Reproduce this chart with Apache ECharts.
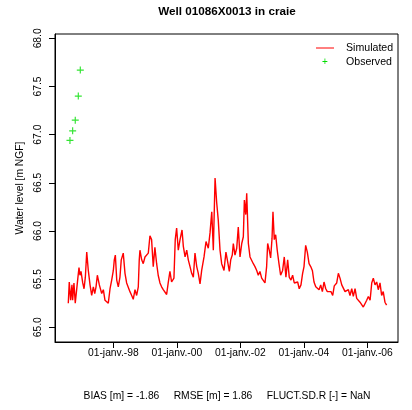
<!DOCTYPE html>
<html>
<head>
<meta charset="utf-8">
<script src="https://cdn.jsdelivr.net/npm/echarts@6/dist/echarts.min.js"></script>
<style>
  html, body { margin: 0; padding: 0; background: #fff; }
  #app { width: 412px; height: 410px; }
</style>
</head>
<body>
<div id="app"></div>
<script>
// simulated water level
const simDates = [
  '1996-08-01', '1996-08-12', '1996-08-28', '1996-09-12', '1996-09-20', '1996-10-05', '1996-10-20', '1996-11-05',
  '1996-11-20', '1996-12-02', '1996-12-13', '1996-12-25', '1997-01-14', '1997-01-29', '1997-02-13', '1997-03-01',
  '1997-03-19', '1997-04-08', '1997-04-27', '1997-05-16', '1997-06-01', '1997-06-16', '1997-07-01', '1997-07-24',
  '1997-08-20', '1997-09-08', '1997-09-27', '1997-10-17', '1997-11-04', '1997-11-24', '1997-12-13', '1998-01-01',
  '1998-01-12', '1998-01-24', '1998-02-09', '1998-02-27', '1998-03-18', '1998-04-02', '1998-04-25', '1998-05-15',
  '1998-06-03', '1998-06-22', '1998-07-11', '1998-07-31', '1998-08-18', '1998-09-07', '1998-09-26', '1998-10-15',
  '1998-10-26', '1998-11-03', '1998-11-23', '1998-12-11', '1998-12-31', '1999-01-19', '1999-02-07', '1999-02-26',
  '1999-03-17', '1999-04-05', '1999-04-24', '1999-05-14', '1999-06-01', '1999-06-21', '1999-07-10', '1999-07-29',
  '1999-08-17', '1999-09-06', '1999-09-24', '1999-10-14', '1999-11-02', '1999-11-29', '1999-12-14', '1999-12-30',
  '2000-01-18', '2000-02-07', '2000-03-01', '2000-03-16', '2000-04-05', '2000-04-24', '2000-05-12', '2000-06-01',
  '2000-06-20', '2000-07-09', '2000-07-28', '2000-08-17', '2000-09-04', '2000-09-24', '2000-10-13', '2000-11-09',
  '2000-12-02', '2000-12-28', '2001-01-17', '2001-02-06', '2001-02-24', '2001-03-16', '2001-04-04', '2001-04-22',
  '2001-05-12', '2001-05-31', '2001-06-27', '2001-07-19', '2001-08-04', '2001-08-27', '2001-09-12', '2001-09-30',
  '2001-10-12', '2001-10-31', '2001-11-20', '2001-12-08', '2001-12-28', '2002-01-17', '2002-02-04', '2002-02-16',
  '2002-03-04', '2002-03-15', '2002-04-03', '2002-04-22', '2002-05-11', '2002-05-30', '2002-06-18', '2002-07-08',
  '2002-07-26', '2002-08-14', '2002-09-03', '2002-09-21', '2002-10-11', '2002-10-30', '2002-11-11', '2002-11-29',
  '2002-12-15', '2002-12-31', '2003-01-11', '2003-01-26', '2003-02-11', '2003-03-01', '2003-03-21', '2003-04-09',
  '2003-05-02', '2003-05-21', '2003-06-09', '2003-06-29', '2003-07-17', '2003-08-06', '2003-08-25', '2003-09-13',
  '2003-10-02', '2003-10-22', '2003-11-09', '2003-11-29', '2003-12-18', '2004-01-03', '2004-01-22', '2004-02-10',
  '2004-03-01', '2004-03-20', '2004-04-08', '2004-04-27', '2004-05-17', '2004-06-04', '2004-06-24', '2004-07-13',
  '2004-08-01', '2004-08-20', '2004-09-09', '2004-09-27', '2004-10-20', '2004-11-08', '2004-11-28', '2004-12-16',
  '2005-01-13', '2005-02-01', '2005-02-20', '2005-03-12', '2005-03-30', '2005-04-19', '2005-05-08', '2005-05-27',
  '2005-06-15', '2005-07-05', '2005-07-23', '2005-08-12', '2005-08-31', '2005-09-19', '2005-10-08', '2005-10-28',
  '2005-11-15', '2005-12-05', '2005-12-24', '2006-01-12', '2006-02-01', '2006-02-20', '2006-03-10', '2006-03-30',
  '2006-04-18', '2006-05-06', '2006-05-26', '2006-06-14', '2006-07-02', '2006-07-22', '2006-08-10'
];
const simValues = [
  65.25, 65.47, 65.28, 65.44, 65.28, 65.46, 65.25, 65.24,
  65.52, 65.62, 65.54, 65.58, 65.46, 65.40, 65.52, 65.78,
  65.59, 65.44, 65.33, 65.42, 65.35, 65.42, 65.54, 65.44,
  65.35, 65.39, 65.28, 65.26, 65.25, 65.40, 65.49, 65.59,
  65.70, 65.75, 65.49, 65.42, 65.52, 65.70, 65.77, 65.56,
  65.46, 65.47, 65.37, 65.33, 65.29, 65.39, 65.33, 65.42,
  65.70, 65.80, 65.70, 65.66, 65.73, 65.72, 65.77, 65.95,
  65.91, 65.63, 65.83, 65.66, 65.54, 65.46, 65.42, 65.39,
  65.37, 65.34, 65.46, 65.58, 65.47, 65.51, 65.91, 66.03,
  65.80, 65.91, 66.01, 65.84, 65.73, 65.80, 65.70, 65.63,
  65.56, 65.52, 65.77, 65.63, 65.56, 65.45, 65.59, 65.73,
  65.89, 65.82, 65.98, 66.20, 65.80, 66.55, 66.29, 66.11,
  65.80, 65.66, 65.59, 65.78, 65.70, 65.58, 65.70, 65.75,
  65.87, 65.75, 65.82, 66.04, 65.73, 65.87, 65.94, 66.32,
  66.17, 66.39, 65.87, 65.73, 65.72, 65.66, 65.63, 65.59,
  65.54, 65.58, 65.51, 65.49, 65.46, 65.63, 65.87, 65.80,
  65.72, 65.92, 66.20, 65.91, 65.96, 65.80, 65.66, 65.54,
  65.59, 65.73, 65.52, 65.70, 65.52, 65.49, 65.54, 65.46,
  65.44, 65.47, 65.40, 65.44, 65.56, 65.63, 65.85, 65.78,
  65.66, 65.63, 65.59, 65.47, 65.42, 65.40, 65.39, 65.44,
  65.37, 65.47, 65.40, 65.37, 65.35, 65.37, 65.33, 65.43,
  65.46, 65.56, 65.51, 65.44, 65.42, 65.37, 65.35, 65.39,
  65.33, 65.40, 65.32, 65.40, 65.30, 65.28, 65.26, 65.25,
  65.21, 65.23, 65.28, 65.32, 65.28, 65.46, 65.51, 65.44,
  65.47, 65.39, 65.46, 65.33, 65.37, 65.26, 65.23
];
// observed points
const obsDates = ['1996-08-20', '1996-09-20', '1996-10-20', '1996-11-24', '1996-12-17'];
const obsValues = [66.94, 67.04, 67.15, 67.40, 67.67];

const yTicks = [65.0, 65.5, 66.0, 66.5, 67.0, 67.5, 68.0];
const xTicks = ['1998-01-01', '2000-01-01', '2002-01-01', '2004-01-01', '2006-01-01'];
const xTickLabels = ['01-janv.-98', '01-janv.-00', '01-janv.-02', '01-janv.-04', '01-janv.-06'];

const font = 'Liberation Sans, Arial, Helvetica, sans-serif';
const toTime = (d) => Date.UTC(+d.slice(0, 4), +d.slice(5, 7) - 1, +d.slice(8, 10));
const xTickTimes = xTicks.map(toTime);

const myChart = echarts.init(document.getElementById('app'));
const option = {
  animation: false,
  backgroundColor: '#fff',
  grid: {
    left: 55,
    right: 14,
    top: 34,
    bottom: 68,
    show: true,
    borderColor: '#000',
    borderWidth: 1
  },
  xAxis: {
    type: 'value',
    min: toTime('1996-03-01'),
    max: toTime('2006-12-19'),
    axisLine: { show: true, lineStyle: { color: '#000' } },
    axisTick: {
      show: true,
      length: 6,
      customValues: xTickTimes,
      lineStyle: { color: '#000' }
    },
    axisLabel: {
      customValues: xTickTimes,
      margin: 6,
      color: '#000',
      fontFamily: font,
      fontSize: 10.3,
      formatter: (val) => {
        const i = xTickTimes.indexOf(val);
        return i >= 0 ? xTickLabels[i] : '';
      }
    },
    splitLine: { show: false }
  },
  yAxis: {
    type: 'value',
    min: 64.847,
    max: 68.045,
    name: 'Water level [m NGF]',
    nameLocation: 'middle',
    nameGap: 29,
    nameTextStyle: { color: '#000', fontFamily: font, fontSize: 10.3 },
    axisLine: { show: true, lineStyle: { color: '#000' } },
    axisTick: {
      show: true,
      length: 6,
      customValues: yTicks,
      lineStyle: { color: '#000' }
    },
    axisLabel: {
      customValues: yTicks,
      rotate: 90,
      margin: 12,
      color: '#000',
      fontFamily: font,
      fontSize: 10.3,
      formatter: (v) => v.toFixed(1)
    },
    splitLine: { show: false }
  },
  graphic: [
    {
      type: 'text',
      x: 227,
      y: 12,
      style: {
        text: 'Well 01086X0013 in craie',
        fontFamily: font,
        fontSize: 11.7,
        fontWeight: 'bold',
        fill: '#000',
        align: 'center',
        verticalAlign: 'middle'
      }
    },
    {
      type: 'text',
      x: 227,
      y: 396,
      style: {
        text: 'BIAS [m] = -1.86     RMSE [m] = 1.86     FLUCT.SD.R [-] = NaN',
        fontFamily: font,
        fontSize: 10.3,
        fill: '#000',
        align: 'center',
        verticalAlign: 'middle'
      }
    },
    // legend
    {
      type: 'line',
      shape: { x1: 316, y1: 48, x2: 334, y2: 48 },
      style: { stroke: '#ff0000', lineWidth: 1 }
    },
    {
      type: 'text',
      x: 346,
      y: 48,
      style: { text: 'Simulated', fontFamily: font, fontSize: 10.6, fill: '#000', verticalAlign: 'middle' }
    },
    {
      type: 'text',
      x: 325,
      y: 62,
      style: { text: '+', fontFamily: font, fontSize: 10, fill: '#00dd00', align: 'center', verticalAlign: 'middle' }
    },
    {
      type: 'text',
      x: 346,
      y: 62,
      style: { text: 'Observed', fontFamily: font, fontSize: 10.6, fill: '#000', verticalAlign: 'middle' }
    }
  ],
  series: [
    {
      name: 'Simulated',
      type: 'line',
      data: simDates.map((d, i) => [toTime(d), simValues[i]]),
      symbol: 'none',
      lineStyle: { color: '#ff0000', width: 1.4 }
    },
    {
      name: 'Observed',
      type: 'scatter',
      data: obsDates.map((d, i) => [toTime(d), obsValues[i]]),
      symbol: 'path://M2.5,0H3.5V2.5H6V3.5H3.5V6H2.5V3.5H0V2.5H2.5Z',
      symbolSize: 7,
      itemStyle: { color: '#00dd00' }
    }
  ]
};

myChart.setOption(option);
</script>
</body>
</html>
